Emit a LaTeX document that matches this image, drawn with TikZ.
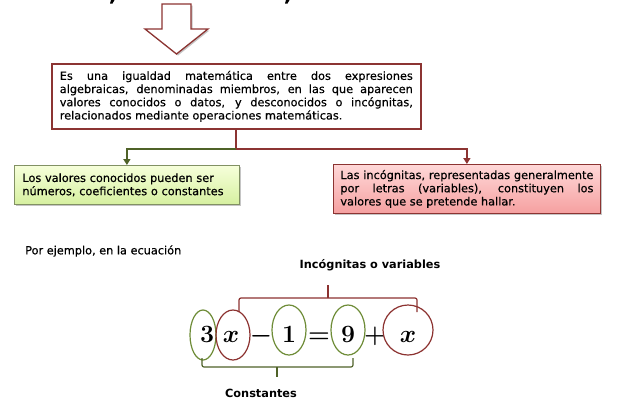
\documentclass[tikz,border=0pt]{standalone}
\usepackage[no-math]{fontspec}
\setmainfont{DejaVu Sans}
\newfontfamily\boxfont[FakeBold=0.5]{DejaVu Sans}
\usetikzlibrary{shadows,arrows.meta}
\definecolor{bord}{RGB}{140,52,50}
\definecolor{grn}{RGB}{79,98,40}
\definecolor{grnbord}{RGB}{130,145,100}
\definecolor{grnell}{RGB}{110,140,55}
\definecolor{redell}{RGB}{140,50,48}
\definecolor{gtop}{RGB}{246,255,218}
\definecolor{gbot}{RGB}{214,240,160}
\definecolor{rtop}{RGB}{255,216,216}
\definecolor{rbot}{RGB}{245,160,160}
\begin{document}
\begin{tikzpicture}[x=1pt,y=-1pt,
  boxtext/.style={font=\boxfont\fontsize{11.3}{13.2}\selectfont},
  shad/.style={drop shadow={shadow xshift=1.5pt,shadow yshift=-1.5pt,opacity=0.45}},
  mainbox/.style={draw=bord,line width=1.6pt,fill=white,shad,inner xsep=8pt,
    text width=353pt,align=justify,minimum height=65pt,anchor=north west,boxtext},
  greenbox/.style={draw=grnbord,line width=0.8pt,top color=gtop,bottom color=gbot,shad,
    inner xsep=8pt,text width=209pt,align=left,minimum height=39pt,anchor=north west,boxtext},
  redbox/.style={draw=bord,line width=0.8pt,top color=rtop,bottom color=rbot,shad,
    inner xsep=7pt,text width=253pt,align=justify,minimum height=49pt,anchor=north west,boxtext},
  redarrow/.style={draw=bord,line width=2pt,-{Triangle[length=6pt,width=7pt]}},
  greenarrow/.style={draw=grn,line width=2pt,-{Triangle[length=6pt,width=7pt]}},
  eq/.style={font=\fontsize{33}{33}\selectfont\boldmath,inner sep=0pt,anchor=base},
  greenell/.style={draw=grnell,line width=1.2pt},
  redellip/.style={draw=redell,line width=1.2pt},
  label/.style={font=\fontsize{11.3}{13}\selectfont\bfseries,inner sep=0pt},
  plain/.style={font=\boxfont\fontsize{11.3}{13}\selectfont,inner sep=0pt}
]
\fill[white] (0,0) rectangle (623,410);
\useasboundingbox (0,0) rectangle (623,410);

% cut-off fragments at top
\fill[black] (111,0) -- (114.5,0) -- (112.5,3.5) -- (110,3.5) -- cycle;
\fill[black] (286,0) -- (289.5,0) -- (287.5,3.5) -- (285,3.5) -- cycle;

% big down arrow
\draw[draw=bord,line width=1.3pt,fill=white,shad,line join=miter]
  (162,4) -- (191,4) -- (191,29) -- (208,29) -- (176.5,54) -- (145,29) -- (162,29) -- cycle;

% main box
\node[mainbox] (m) at (51,63) {Es una igualdad matemática entre dos expresiones\linebreak
algebraicas, denominadas miembros, en las que aparecen\linebreak
valores conocidos o datos, y desconocidos o incógnitas,\linebreak
relacionados mediante operaciones matemáticas.};

% sub boxes
\node[greenbox] (g) at (14,165) {Los valores conocidos pueden ser\\números, coeficientes o constantes};
\node[redbox] (r) at (333,164) {Las incógnitas, representadas generalmente\linebreak
por letras (variables), constituyen los\linebreak
valores que se pretende hallar.};

% connectors
\coordinate (j) at ([yshift=-19pt]m.south);
\draw[redarrow] (m.south) -- (j) -| (r.north);
\draw[greenarrow] (j) -| (g.north);

% example text
\node[plain,anchor=west] (p) at (25,251) {Por ejemplo, en la ecuación};
\node[label] (iv) at (370,265) {Incógnitas o variables};
\node[label] (ct) at (261,393) {Constantes};

% equation
\node[eq] (e3) at (207,342) {$3$};
\node[eq] (ex1) at (231,342) {$x$};
\node[eq] (em) at (261,342) {$-$};
\node[eq] (e1) at (289,342) {$1$};
\node[eq] (eeq) at (319,342) {$=$};
\node[eq] (e9) at (348,342) {$9$};
\node[eq] (ep) at (375,342) {$+$};
\node[eq] (ex2) at (408,342) {$x$};

% ellipses
\draw[greenell] (203,335) ellipse [x radius=13, y radius=25];
\draw[redellip] (233,335) ellipse [x radius=17, y radius=25];
\draw[greenell] (289,330) ellipse [x radius=17, y radius=25];
\draw[greenell] (348,330) ellipse [x radius=17, y radius=25];
\draw[redellip] (408,330) ellipse [x radius=25, y radius=25];

% braces
\draw[redellip,rounded corners=2pt] (239,312) -- (239,298) -- (417,298) -- (417,312);
\draw[redellip] (328,298) -- (328,285);
\draw[draw=grn,line width=1.2pt,rounded corners=2pt] (202,358) -- (202,367) -- (353,367) -- (353,358);
\draw[draw=grn,line width=1.2pt] (277,367) -- (277,377);
\end{tikzpicture}
\end{document}
